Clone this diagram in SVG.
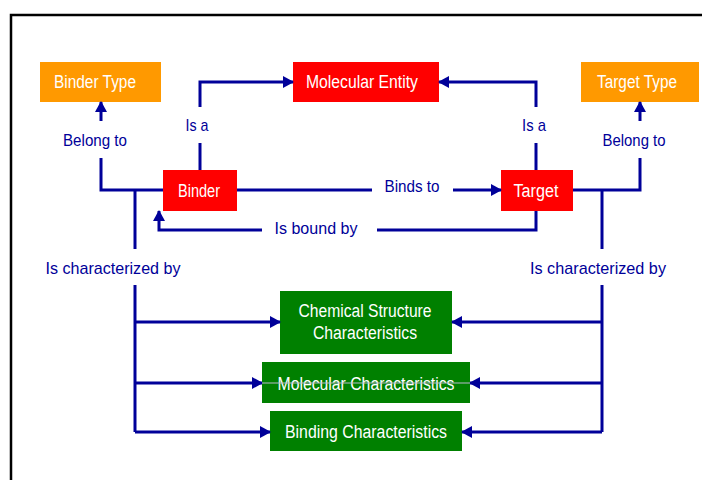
<svg xmlns="http://www.w3.org/2000/svg" width="702" height="480" viewBox="0 0 702 480">
<style>
.box text{font-family:"Liberation Sans",Arial,sans-serif;font-size:18px;fill:#ffffff;text-anchor:middle}
.lbl{font-family:"Liberation Sans",Arial,sans-serif;font-size:17px;fill:#000099;text-anchor:middle}
.ln{fill:none;stroke:#000099;stroke-width:3}
.red{fill:#ff0000}
.org{fill:#ff9900}
.grn{fill:#008000}
</style>
<defs>
<marker id="ah" markerUnits="userSpaceOnUse" markerWidth="12" markerHeight="13" refX="10" refY="6" orient="auto">
<path d="M0,0 L11,6 L0,12 z" fill="#000099"/>
</marker>
</defs>
<rect x="0" y="0" width="702" height="480" fill="#ffffff"/>
<rect x="11" y="15" width="700" height="480" fill="none" stroke="#000000" stroke-width="2.5"/>

<g id="binder-type" class="box"><rect class="org" x="40" y="62" width="121" height="40"/><text x="95" y="88" textLength="82" lengthAdjust="spacingAndGlyphs">Binder Type</text></g>
<g id="molecular-entity" class="box"><rect class="red" x="293" y="62" width="146" height="40"/><text x="362" y="88" textLength="112" lengthAdjust="spacingAndGlyphs">Molecular Entity</text></g>
<g id="target-type" class="box"><rect class="org" x="581" y="62" width="118" height="40"/><text x="637" y="88" textLength="80" lengthAdjust="spacingAndGlyphs">Target Type</text></g>
<g id="binder" class="box"><rect class="red" x="163" y="170" width="74" height="41"/><text x="199" y="197" textLength="42" lengthAdjust="spacingAndGlyphs">Binder</text></g>
<g id="target" class="box"><rect class="red" x="501" y="170" width="72" height="41"/><text x="536" y="197" textLength="45" lengthAdjust="spacingAndGlyphs">Target</text></g>
<g id="chemical-structure" class="box"><rect class="grn" x="280" y="291" width="172" height="63"/><text x="365" y="317" textLength="133" lengthAdjust="spacingAndGlyphs">Chemical Structure</text><text x="365" y="339" textLength="104" lengthAdjust="spacingAndGlyphs">Characteristics</text></g>
<g id="molecular-characteristics" class="box"><rect class="grn" x="262" y="362" width="208" height="41"/><text x="366" y="390" textLength="177" lengthAdjust="spacingAndGlyphs">Molecular Characteristics</text></g>
<g id="binding-characteristics" class="box"><rect class="grn" x="270" y="411" width="192" height="40"/><text x="366" y="438" textLength="162" lengthAdjust="spacingAndGlyphs">Binding Characteristics</text></g>

<g id="connectors">
<path class="ln" d="M200,170 V143"/>
<path class="ln" d="M200,107 V82 H293" marker-end="url(#ah)"/>
<path class="ln" d="M536,170 V143"/>
<path class="ln" d="M536,107 V82 H439" marker-end="url(#ah)"/>
<path class="ln" d="M163,190 H101 V158"/>
<path class="ln" d="M101,121 V102" marker-end="url(#ah)"/>
<path class="ln" d="M573,190 H640 V158"/>
<path class="ln" d="M640,121 V102" marker-end="url(#ah)"/>
<path class="ln" d="M237,190 H372"/>
<path class="ln" d="M453,190 H501" marker-end="url(#ah)"/>
<path class="ln" d="M536,211 V230 H377"/>
<path class="ln" d="M262,230 H159 V211" marker-end="url(#ah)"/>
<path class="ln" d="M135,190 V249"/>
<path class="ln" d="M135,285 V432"/>
<path class="ln" d="M135,322 H280" marker-end="url(#ah)"/>
<path class="ln" d="M135,383 H262" marker-end="url(#ah)"/>
<path class="ln" d="M135,432 H270" marker-end="url(#ah)"/>
<path class="ln" d="M602,190 V249"/>
<path class="ln" d="M602,285 V432"/>
<path class="ln" d="M602,322 H452" marker-end="url(#ah)"/>
<path class="ln" d="M602,383 H470" marker-end="url(#ah)"/>
<path class="ln" d="M602,432 H462" marker-end="url(#ah)"/>
<path d="M262,383 H470" fill="none" stroke="#b8b8cc" stroke-width="1"/>
</g>

<g id="labels">
<text class="lbl" x="197" y="131" textLength="23" lengthAdjust="spacingAndGlyphs">Is a</text>
<text class="lbl" x="534" y="131" textLength="24" lengthAdjust="spacingAndGlyphs">Is a</text>
<text class="lbl" x="95" y="146" textLength="64" lengthAdjust="spacingAndGlyphs">Belong to</text>
<text class="lbl" x="634" y="146" textLength="63" lengthAdjust="spacingAndGlyphs">Belong to</text>
<text class="lbl" x="412" y="192" textLength="55" lengthAdjust="spacingAndGlyphs">Binds to</text>
<text class="lbl" x="316" y="234" textLength="83" lengthAdjust="spacingAndGlyphs">Is  bound by</text>
<text class="lbl" x="113" y="274" textLength="135" lengthAdjust="spacingAndGlyphs">Is characterized  by</text>
<text class="lbl" x="598" y="274" textLength="136" lengthAdjust="spacingAndGlyphs">Is characterized  by</text>
</g>
</svg>
